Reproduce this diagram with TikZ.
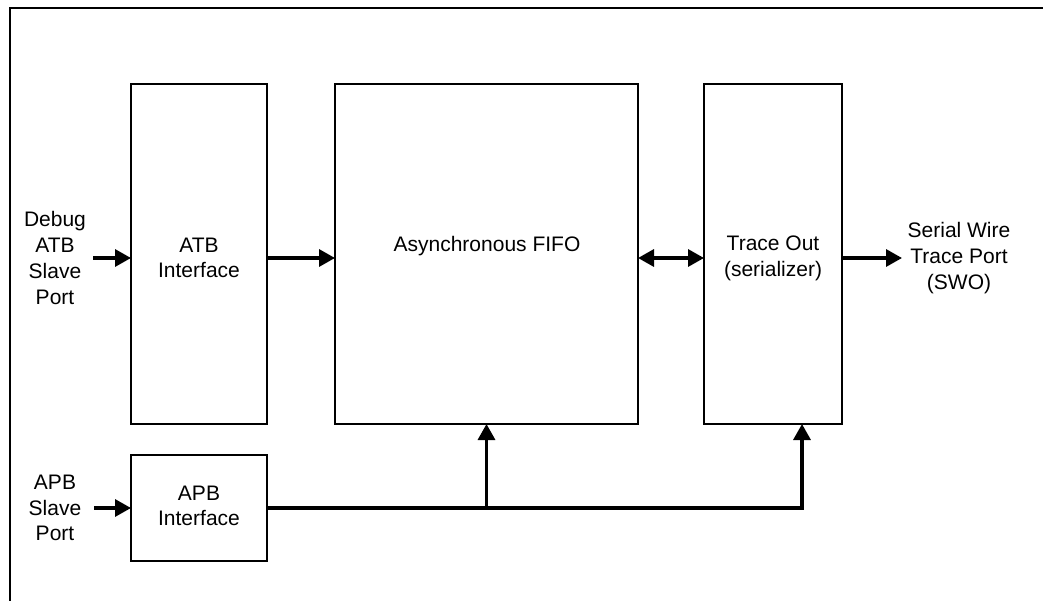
\documentclass[tikz,border=0pt]{standalone}
\usepackage{fontspec}
\setmainfont{Liberation Sans}
\usetikzlibrary{arrows.meta}
\begin{document}
\begin{tikzpicture}[x=1pt,y=-1pt,
  blk/.style={draw, line width=1.3pt, inner sep=0pt, outer sep=0pt},
  lbl/.style={align=center, inner sep=0pt, font=\fontsize{21}{25.7}\selectfont},
  conn/.style={line width=3.3pt, -{Triangle[length=16pt,width=17pt]}},
  bconn/.style={line width=3.3pt, {Triangle[length=16pt,width=17pt]}-{Triangle[length=16pt,width=17pt]}},
 ]
\useasboundingbox (0,0) rectangle (1043,601);
\draw[line width=2pt] (10,601) -- (10,8) -- (1043,8);
% blocks
\node[blk, minimum width=136pt, minimum height=340pt] (atb) at (199,254) {};
\node[blk, minimum width=303pt, minimum height=340pt] (fifo) at (486.5,254) {};
\node[blk, minimum width=138pt, minimum height=340pt] (trace) at (773,254) {};
\node[blk, minimum width=136pt, minimum height=106pt] (apb) at (199,508) {};
% labels
\node[lbl] (atbt) at (199,258) {ATB\\Interface};
\node[lbl] (fifot) at (487,246) {Asynchronous FIFO};
\node[lbl] (tracet) at (773,258) {Trace Out\\(serializer)};
\node[lbl] (apbt) at (199,506) {APB\\Interface};
\node[lbl] (dbg) at (55,258) {Debug\\ATB\\Slave\\Port};
\node[lbl] (apbs) at (55,508) {APB\\Slave\\Port};
\node[lbl] (swo) at (959,258) {Serial Wire\\Trace Port\\(SWO)};
% coordinates
\coordinate (row) at (0,258);
\coordinate (apbrow) at (0,508);
\coordinate (dbgin) at (93,258);
\coordinate (swoout) at (902,258);
\coordinate (apbin) at (94,508);
\coordinate (tap) at (802,0);
% connectors
\draw[conn] (dbgin) -- (atb.west |- row);
\draw[conn] (atb.east |- row) -- (fifo.west |- row);
\draw[bconn] (fifo.east |- row) -- (trace.west |- row);
\draw[conn] (trace.east |- row) -- (swoout);
\draw[conn] (apbin) -- (apb.west |- apbrow);
\draw[conn] (apb.east |- apbrow) -| (trace.south -| tap);
\draw[conn] (fifo.south |- apbrow) -- (fifo.south);
\end{tikzpicture}
\end{document}
